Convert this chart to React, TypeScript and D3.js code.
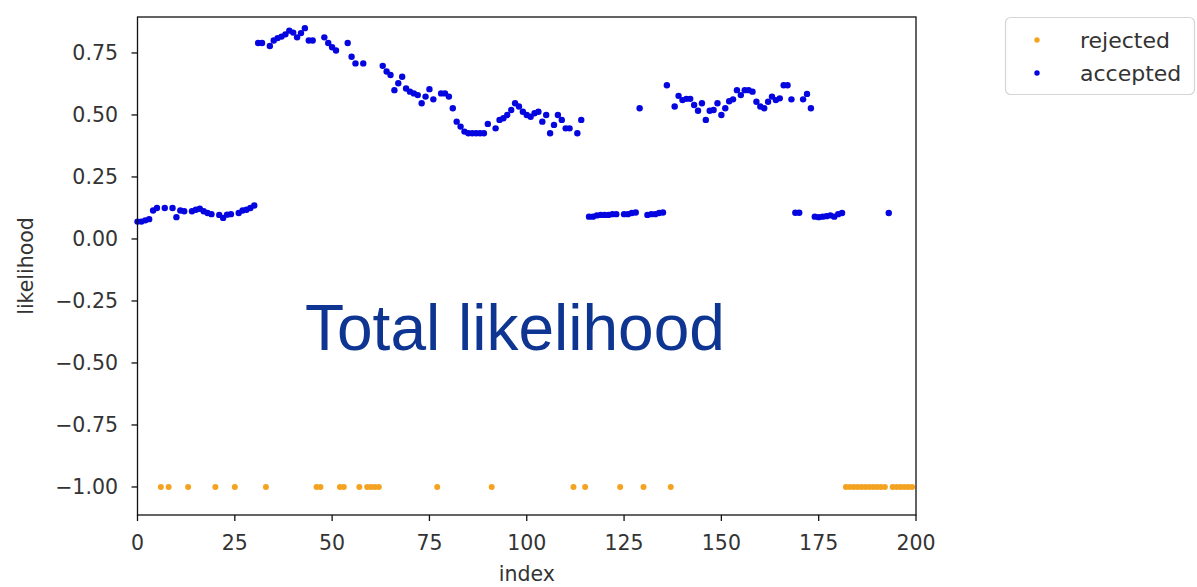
import React from "react";
import * as d3 from "d3";

const acceptedIndex = [
  0, 1, 2, 3, 4, 5, 7, 9, 10, 11, 12, 14, 15, 16, 17, 18, 19, 21, 22, 23, 24, 26, 27, 28, 29, 30,
  31, 32, 34, 35, 36, 37, 38, 39, 40, 41, 42, 43, 44, 45, 48, 49, 50, 51, 54, 55, 56, 58,
  63, 64, 65, 66, 67, 68, 69, 70, 71, 72, 73, 74, 75, 76, 78, 79, 80, 81, 82, 83, 84, 85, 86, 87, 88, 89, 90,
  92, 93, 94, 95, 96, 97, 98, 99, 100, 101, 102, 103, 104, 105, 106, 107, 108, 109, 110, 111, 113, 114,
  116, 117, 118, 119, 120, 121, 122, 123, 125, 126, 127, 128, 129, 131, 132, 133, 134, 135, 136,
  138, 139, 140, 141, 142, 143, 144, 145, 146, 147, 148, 149, 150, 151, 152, 153, 154, 155, 156, 157, 158,
  159, 160, 161, 162, 163, 164, 165, 166, 167, 168, 169, 170, 171, 172, 173,
  174, 175, 176, 177, 178, 179, 180, 181, 193,
];
const acceptedValue = [
  0.07, 0.07, 0.075, 0.08, 0.115, 0.125, 0.125, 0.125, 0.088, 0.115, 0.112, 0.112, 0.118, 0.122, 0.112, 0.105, 0.1, 0.097, 0.085, 0.098, 0.1, 0.105, 0.115, 0.118, 0.125, 0.135,
  0.79, 0.79, 0.778, 0.8, 0.81, 0.816, 0.825, 0.84, 0.832, 0.813, 0.83, 0.85, 0.8, 0.8, 0.813, 0.79, 0.773, 0.76, 0.79, 0.735, 0.708, 0.708,
  0.698, 0.675, 0.661, 0.6, 0.628, 0.654, 0.607, 0.594, 0.587, 0.58, 0.547, 0.574, 0.604, 0.563, 0.587, 0.587, 0.574, 0.527, 0.473, 0.453, 0.433, 0.426, 0.426, 0.426, 0.426, 0.426, 0.464,
  0.446, 0.48, 0.487, 0.5, 0.52, 0.547, 0.534, 0.513, 0.5, 0.493, 0.507, 0.513, 0.473, 0.5, 0.426, 0.46, 0.5, 0.48, 0.446, 0.446, 0.426, 0.48,
  0.09, 0.09, 0.095, 0.097, 0.097, 0.097, 0.1, 0.1, 0.1, 0.1, 0.105, 0.107, 0.527, 0.097, 0.1, 0.1, 0.105, 0.107, 0.62,
  0.534, 0.577, 0.56, 0.565, 0.565, 0.54, 0.517, 0.547, 0.48, 0.517, 0.52, 0.547, 0.5, 0.527, 0.555, 0.563, 0.6, 0.58, 0.6, 0.6, 0.594,
  0.553, 0.534, 0.527, 0.553, 0.574, 0.56, 0.567, 0.62, 0.62, 0.563, 0.106, 0.106, 0.563, 0.585, 0.527,
  0.09, 0.088, 0.09, 0.092, 0.095, 0.09, 0.1, 0.105, 0.105,
];
const rejectedIndex = [
  6, 8, 13, 20, 25, 33, 46, 47, 52, 53, 57, 59, 60, 61, 62, 77, 91, 112, 115, 124, 130, 137,
  182, 183, 184, 185, 186, 187, 188, 189, 190, 191, 192, 194, 195, 196, 197, 198, 199,
];
const rejectedValue = -1;

const xTicks = [0, 25, 50, 75, 100, 125, 150, 175, 200];
const yTicks = [-1.0, -0.75, -0.5, -0.25, 0.0, 0.25, 0.5, 0.75];
const legendLabels = ["rejected", "accepted"];

const W = 1197;
const H = 587;
const ml = 137.5, mr = 916, mt = 17, mb = 515;

export default function App() {
  const x = d3.scaleLinear().domain([0, 200]).range([ml, mr]);
  const y = d3.scaleLinear().domain([-1.113, 0.895]).range([mb, mt]);
  const fmt = (v: number) => d3.format(".2f")(v).replace("-", "\u2212");
  const font = "DejaVu Sans, sans-serif";
  const tickColor = "#333";
  const orange = "#f4a321";
  const blue = "#0505e0";

  return (
    <div style={{ position: "absolute", left: 0, top: 0 }}>
      <svg width={W} height={H} style={{ display: "block", background: "#fff" }}>
        <g>
          {rejectedIndex.map((i) => (
            <circle key={"r" + i} cx={x(i)} cy={y(rejectedValue)} r={3} fill={orange} />
          ))}
          {acceptedIndex.map((i, k) => (
            <circle key={"a" + i} cx={x(i)} cy={y(acceptedValue[k])} r={3.2} fill={blue} />
          ))}
        </g>
        <rect x={ml} y={mt} width={mr - ml} height={mb - mt} fill="none" stroke="#111" strokeWidth={1.3} />
        <g>
          {xTicks.map((t) => (
            <g key={"x" + t}>
              <line x1={x(t)} x2={x(t)} y1={mb} y2={mb + 6} stroke="#111" strokeWidth={1.3} />
              <text x={x(t)} y={mb + 35} textAnchor="middle" fontFamily={font} fontSize={20.5} fill={tickColor}>
                {t}
              </text>
            </g>
          ))}
          <text x={(ml + mr) / 2} y={581} textAnchor="middle" fontFamily={font} fontSize={20.5} fill={tickColor}>
            index
          </text>
        </g>
        <g>
          {yTicks.map((t) => (
            <g key={"y" + t}>
              <line x1={ml - 6} x2={ml} y1={y(t)} y2={y(t)} stroke="#111" strokeWidth={1.3} />
              <text x={ml - 19.5} y={y(t)} dy="0.36em" textAnchor="end" fontFamily={font} fontSize={20.5} fill={tickColor}>
                {fmt(t)}
              </text>
            </g>
          ))}
          <text
            transform={`translate(33, ${(mt + mb) / 2}) rotate(-90)`}
            textAnchor="middle"
            fontFamily={font}
            fontSize={20.5}
            fill={tickColor}
          >
            likelihood
          </text>
        </g>
        <text x={305} y={350} fontFamily="Liberation Sans, Arial, sans-serif" fontSize={64} fill="#0d3591">
          Total likelihood
        </text>
        <g>
          <rect x={1005.5} y={17.5} width={189} height={77} rx={5} fill="#fff" stroke="#d6d6d6" strokeWidth={1.2} />
          {legendLabels.map((lab, k) => (
            <g key={lab}>
              <circle cx={1037} cy={40 + k * 33} r={2.7} fill={k === 0 ? orange : blue} />
              <text x={1080} y={40 + k * 33} dy="0.36em" fontFamily={font} fontSize={22} fill={tickColor}>
                {lab}
              </text>
            </g>
          ))}
        </g>
      </svg>
    </div>
  );
}
